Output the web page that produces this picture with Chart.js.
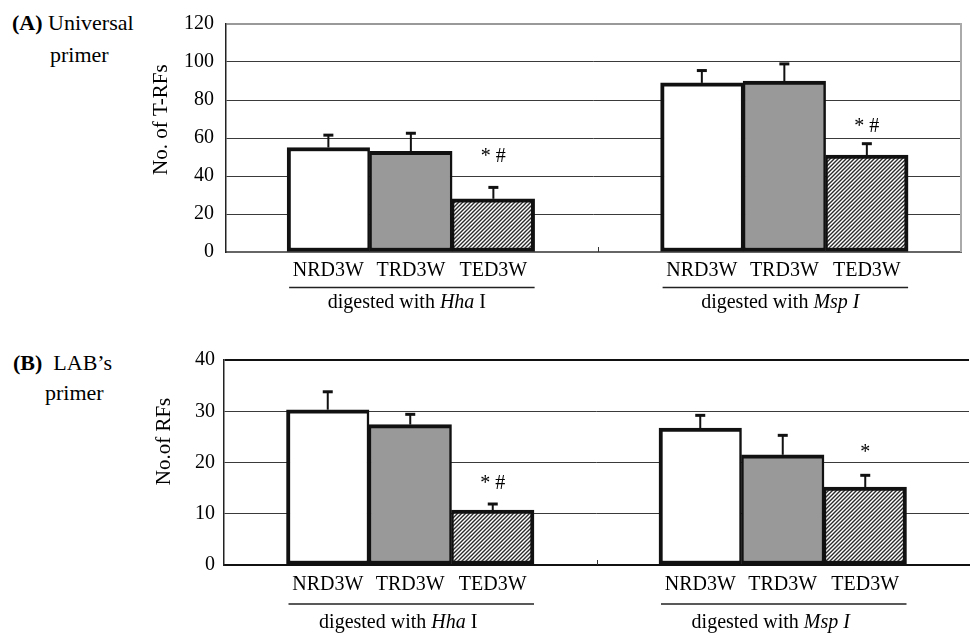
<!DOCTYPE html>
<html>
<head>
<meta charset="utf-8">
<script src="https://cdn.jsdelivr.net/npm/chart.js@4"></script>
<style>
  body { margin: 0; background: #fff; width: 970px; height: 638px; position: relative; overflow: hidden; font-family: "Liberation Serif", serif; color: #000; }
  .wrap { position: absolute; left: 145px; width: 825px; }
  #wrapA { top: 0; height: 320px; }
  #wrapB { top: 330px; height: 308px; }
  .tag { position: absolute; font-size: 22px; white-space: nowrap; line-height: 1; }
</style>
</head>
<body>
<div class="tag" style="left:12px; top:12px;"><b>(A)</b> Universal</div>
<div class="tag" style="left:50px; top:44px;">primer</div>
<div class="tag" style="left:13px; top:352px;"><b>(B)</b>&nbsp; LAB’s</div>
<div class="tag" style="left:45px; top:382px;">primer</div>
<div class="wrap" id="wrapA"><canvas id="chartA"></canvas></div>
<div class="wrap" id="wrapB"><canvas id="chartB"></canvas></div>
<script>
// groups = restriction enzymes, samples = bars inside each group
const groups = ["Hha I", "Msp I"];
const samples = ["NRD3W", "TRD3W", "TED3W"];
const captions = [
    [["digested with ", false], ["Hha", true], [" I", false]],
    [["digested with ", false], ["Msp I", true]]
];

// (A) universal primer, no. of T-RFs
const nrdA = [55, 89];
const trdA = [53, 90];
const tedA = [28, 51];
const nrdAErr = [6.5, 6.5];
const trdAErr = [9.5, 9];
const tedAErr = [6, 6];
const marksA = ["* #", "* #"];
const markLevelA = [50, 66];
const ticksA = [0, 20, 40, 60, 80, 100, 120];

// (B) LAB's primer, no. of RFs
const nrdB = [30.3, 26.7];
const trdB = [27.4, 21.5];
const tedB = [10.7, 15.2];
const nrdBErr = [3.5, 2.5];
const trdBErr = [2, 3.8];
const tedBErr = [1.2, 2.3];
const marksB = ["* #", "*"];
const markLevelB = [15.8, 21.9];
const ticksB = [0, 10, 20, 30, 40];

Chart.defaults.font.family = "'Liberation Serif', serif";
Chart.defaults.color = "#000";

function hatch() {
    const c = document.createElement("canvas");
    c.width = 4;
    c.height = 4;
    const g = c.getContext("2d");
    g.fillStyle = "#fff";
    g.fillRect(0, 0, 4, 4);
    g.strokeStyle = "#2a2a2a";
    g.lineWidth = 1.4;
    g.beginPath();
    g.moveTo(-1, 5); g.lineTo(5, -1);
    g.moveTo(-1, 1); g.lineTo(1, -1);
    g.moveTo(3, 5); g.lineTo(5, 3);
    g.stroke();
    return g.createPattern(c, "repeat");
}

function points(vals) {
    return vals.map((v, i) => ({ x: i + 1, y: v }));
}

function datasets(nrd, trd, ted, errs) {
    const fills = ["#ffffff", "#999999", hatch()];
    const borders = [
        { top: 4, bottom: 4, left: 4, right: 2.5 },
        { top: 4, bottom: 4, left: 2.5, right: 2.5 },
        { top: 4, bottom: 4, left: 2.5, right: 4 }
    ];
    return [nrd, trd, ted].map((vals, i) => ({
        label: samples[i],
        data: points(vals),
        err: errs[i],
        backgroundColor: fills[i],
        borderColor: "#111",
        borderWidth: borders[i],
        borderSkipped: false,
        barThickness: 82.5
    }));
}

function richText(ctx, parts, cx, cy, size) {
    let total = 0;
    parts.forEach(p => {
        ctx.font = (p[1] ? "italic " : "") + size + "px 'Liberation Serif'";
        total += ctx.measureText(p[0]).width;
    });
    let x = cx - total / 2;
    ctx.textAlign = "left";
    parts.forEach(p => {
        ctx.font = (p[1] ? "italic " : "") + size + "px 'Liberation Serif'";
        ctx.fillText(p[0], x, cy);
        x += ctx.measureText(p[0]).width;
    });
}

const extras = {
    id: "extras",
    afterDatasetsDraw(chart, args, opts) {
        const ctx = chart.ctx;
        const area = chart.chartArea;
        const xs = chart.scales.x;
        const ys = chart.scales.y;
        ctx.save();

        // right frame (panel A only)
        if (opts.frameRight) {
            ctx.strokeStyle = "#aaa";
            ctx.lineWidth = 2;
            ctx.beginPath();
            ctx.moveTo(area.right, area.top - 1);
            ctx.lineTo(area.right, area.bottom);
            ctx.stroke();
        }

        // small tick between the two groups
        const mid = Math.round(xs.getPixelForValue(1.5)) + 0.5;
        ctx.strokeStyle = "#333";
        ctx.lineWidth = 1;
        ctx.beginPath();
        ctx.moveTo(mid, area.bottom);
        ctx.lineTo(mid, area.bottom - 5);
        ctx.stroke();

        // error bars, upper half only
        ctx.strokeStyle = "#111";
        chart.data.datasets.forEach((ds, i) => {
            const meta = chart.getDatasetMeta(i);
            meta.data.forEach((bar, j) => {
                const top = ys.getPixelForValue(ds.data[j].y + ds.err[j]);
                ctx.lineWidth = 2;
                ctx.beginPath();
                ctx.moveTo(bar.x, bar.y);
                ctx.lineTo(bar.x, top);
                ctx.stroke();
                ctx.lineWidth = 3;
                ctx.beginPath();
                ctx.moveTo(bar.x - 5, top);
                ctx.lineTo(bar.x + 5, top);
                ctx.stroke();
            });
        });

        // significance marks over TED3W
        const ted = chart.getDatasetMeta(2);
        ctx.fillStyle = "#000";
        ctx.textAlign = "center";
        ctx.textBaseline = "middle";
        ctx.font = "20px 'Liberation Serif'";
        ted.data.forEach((bar, j) => {
            ctx.fillText(opts.marks[j], bar.x, ys.getPixelForValue(opts.markLevel[j]));
        });

        // sample labels, group lines and captions
        const first = chart.getDatasetMeta(0);
        chart.data.datasets.forEach((ds, i) => {
            chart.getDatasetMeta(i).data.forEach(bar => {
                ctx.font = "20px 'Liberation Serif'";
                ctx.textAlign = "center";
                ctx.fillText(ds.label, bar.x, area.bottom + opts.labelGap);
            });
        });
        groups.forEach((g, j) => {
            const a = first.data[j];
            const b = ted.data[j];
            const left = a.x - a.width / 2;
            const right = b.x + b.width / 2;
            ctx.strokeStyle = "#222";
            ctx.lineWidth = 1.5;
            ctx.beginPath();
            ctx.moveTo(left + 2, area.bottom + opts.lineGap);
            ctx.lineTo(right, area.bottom + opts.lineGap);
            ctx.stroke();
            richText(ctx, captions[j], (left + right) / 2 + opts.captionShift, area.bottom + opts.captionGap, 20);
        });
        ctx.restore();
    }
};

function makeChart(id, sets, cfg) {
    const top = cfg.ticks[cfg.ticks.length - 1];
    return new Chart(id, {
        type: "bar",
        data: { datasets: sets },
        plugins: [extras],
        options: {
            responsive: true,
            maintainAspectRatio: false,
            animation: false,
            layout: { padding: cfg.padding },
            scales: {
                x: {
                    type: "linear",
                    offset: false,
                    min: cfg.xMin,
                    max: cfg.xMax,
                    ticks: { display: false },
                    grid: { display: false, drawTicks: false },
                    border: { color: cfg.baseColor, width: 2 },
                    afterFit: s => { s.height = cfg.bottom; }
                },
                y: {
                    min: 0,
                    max: top,
                    afterBuildTicks: s => { s.ticks = cfg.ticks.map(v => ({ value: v })); },
                    ticks: { font: { size: 20 }, padding: cfg.tickPad },
                    grid: {
                        drawTicks: false,
                        color: c => c.tick && c.tick.value === top ? cfg.topColor : "#3a3a3a",
                        lineWidth: c => c.tick && c.tick.value === top ? 2 : 1
                    },
                    border: { color: "#222", width: 1.5 },
                    title: { display: true, text: cfg.title, font: { size: 21 }, padding: { top: cfg.titlePad, bottom: 0 } },
                    afterFit: s => { s.width = cfg.left; }
                }
            },
            plugins: {
                legend: { display: false },
                tooltip: { enabled: false },
                extras: cfg.extras
            }
        }
    });
}

makeChart("chartA", datasets(nrdA, trdA, tedA, [nrdAErr, trdAErr, tedAErr]), {
    padding: { top: 20, right: 9, left: 0, bottom: 0 },
    xMin: 0.505, xMax: 2.473,
    bottom: 68, left: 81,
    ticks: ticksA, tickPad: 12,
    topColor: "#999", baseColor: "#666",
    title: "       No. of T-RFs", titlePad: 4,
    extras: { frameRight: true, marks: marksA, markLevel: markLevelA, labelGap: 19, lineGap: 35.5, captionGap: 51, captionShift: -4 }
});

makeChart("chartB", datasets(nrdB, trdB, tedB, [nrdBErr, trdBErr, tedBErr]), {
    padding: { top: 30, right: 1, left: 0, bottom: 0 },
    xMin: 0.5, xMax: 2.5,
    bottom: 73, left: 79,
    ticks: ticksB, tickPad: 9,
    topColor: "#111", baseColor: "#111",
    title: "        No.of RFs", titlePad: 7,
    extras: { frameRight: false, marks: marksB, markLevel: markLevelB, labelGap: 19.5, lineGap: 39, captionGap: 58, captionShift: -12 }
});
</script>
</body>
</html>
